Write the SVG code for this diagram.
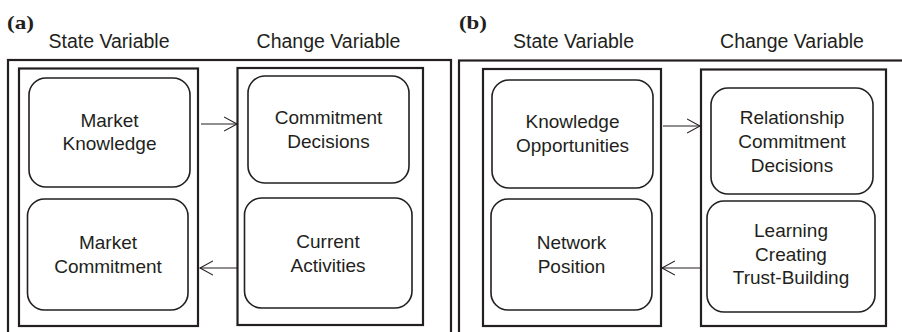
<svg xmlns="http://www.w3.org/2000/svg" width="902" height="332" viewBox="0 0 902 332">
  <style>
    .frame { fill: none; stroke: #231f20; stroke-width: 2.2; }
    .column { fill: none; stroke: #231f20; stroke-width: 2.2; }
    .node { fill: #ffffff; stroke: #231f20; stroke-width: 1.6; }
    .label { font-family: "Liberation Sans", Arial, sans-serif; font-size: 19px; fill: #231f20; text-anchor: middle; }
    .head { font-family: "Liberation Sans", Arial, sans-serif; font-size: 19.5px; fill: #231f20; text-anchor: middle; }
    .panel { font-family: "Liberation Serif", "Times New Roman", serif; font-size: 19px; font-weight: bold; fill: #231f20; }
    .link { fill: none; stroke: #231f20; stroke-width: 1.1; }
  </style>
  <defs>
    <marker id="open-arrow" markerUnits="userSpaceOnUse" markerWidth="16" markerHeight="18" refX="13" refY="8" orient="auto">
      <path d="M0,1 L13,8 L0,15" fill="none" stroke="#231f20" stroke-width="1.1"/>
    </marker>
  </defs>
  <rect width="902" height="332" fill="#ffffff"/>

  <!-- panel (a) -->
  <g id="panel-a">
    <text class="panel" x="7" y="29" textLength="27" lengthAdjust="spacingAndGlyphs">(a)</text>
    <text class="head" x="109" y="48">State Variable</text>
    <text class="head" x="328.5" y="48">Change Variable</text>
    <rect class="frame" x="8" y="60" width="443" height="290"/>
    <rect class="column" x="19" y="68.5" width="179" height="257.5"/>
    <rect class="column" x="237.5" y="68" width="185.5" height="257"/>
  </g>

  <g id="market-knowledge">
    <rect class="node" x="29" y="78" width="161" height="109" rx="17"/>
    <text class="label" x="109.5" y="127">Market</text>
    <text class="label" x="109.5" y="150">Knowledge</text>
  </g>
  <g id="market-commitment">
    <rect class="node" x="27.5" y="199" width="160.5" height="111" rx="17"/>
    <text class="label" x="108" y="249">Market</text>
    <text class="label" x="108" y="273">Commitment</text>
  </g>
  <g id="commitment-decisions">
    <rect class="node" x="248" y="76" width="161" height="107" rx="17"/>
    <text class="label" x="328.5" y="124">Commitment</text>
    <text class="label" x="328.5" y="148">Decisions</text>
  </g>
  <g id="current-activities">
    <rect class="node" x="244.5" y="198" width="167.5" height="110" rx="17"/>
    <text class="label" x="328" y="248">Current</text>
    <text class="label" x="328" y="272">Activities</text>
  </g>

  <!-- panel (b) -->
  <g id="panel-b">
    <text class="panel" x="459" y="29" textLength="28" lengthAdjust="spacingAndGlyphs">(b)</text>
    <text class="head" x="573.5" y="48">State Variable</text>
    <text class="head" x="792" y="48">Change Variable</text>
    <rect class="frame" x="459" y="60.5" width="460" height="290"/>
    <rect class="column" x="483" y="69" width="178" height="257"/>
    <rect class="column" x="701" y="69.5" width="185" height="256.5"/>
  </g>

  <g id="knowledge-opportunities">
    <rect class="node" x="492" y="80" width="161" height="108" rx="17"/>
    <text class="label" x="572.5" y="128">Knowledge</text>
    <text class="label" x="572.5" y="152">Opportunities</text>
  </g>
  <g id="network-position">
    <rect class="node" x="491" y="199" width="161" height="111" rx="17"/>
    <text class="label" x="571.5" y="249">Network</text>
    <text class="label" x="571.5" y="273">Position</text>
  </g>
  <g id="relationship-commitment-decisions">
    <rect class="node" x="711" y="88" width="162" height="106" rx="17"/>
    <text class="label" x="792" y="124">Relationship</text>
    <text class="label" x="792" y="148">Commitment</text>
    <text class="label" x="792" y="172">Decisions</text>
  </g>
  <g id="learning-creating-trust">
    <rect class="node" x="707" y="201" width="168" height="111" rx="17"/>
    <text class="label" x="791" y="237">Learning</text>
    <text class="label" x="791" y="261">Creating</text>
    <text class="label" x="791" y="284">Trust-Building</text>
  </g>

  <!-- connectors -->
  <g id="connectors">
    <line class="link" x1="201" y1="124" x2="237" y2="124" marker-end="url(#open-arrow)"/>
    <line class="link" x1="237" y1="268" x2="200" y2="268" marker-end="url(#open-arrow)"/>
    <line class="link" x1="663" y1="126" x2="700" y2="126" marker-end="url(#open-arrow)"/>
    <line class="link" x1="700" y1="268" x2="662" y2="268" marker-end="url(#open-arrow)"/>
  </g>
</svg>
